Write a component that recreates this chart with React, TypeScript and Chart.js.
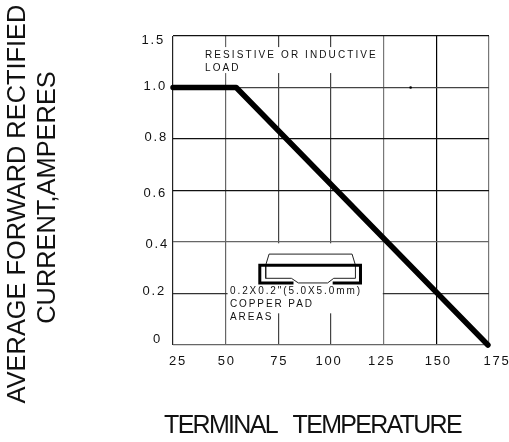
import React, { useEffect, useRef } from "react";
import { Chart, registerables } from "chart.js";

Chart.register(...registerables);

const FONT = '"Liberation Sans", Arial, sans-serif';

const xTickValues = [25, 50, 75, 100, 125, 150, 175];
const yTickLabels = ["0", "0.2", "0.4", "0.6", "0.8", "1.0", "1.5"];

const deratingX = [25, 55, 174.5];
const deratingY = [1.0, 1.0, 0];

const specX = [137.8];
const specY = [1.0];

const padBoldX = [82.2, 66.2, 66.2, 114, 114, 100.8];
const padBoldY = [0.241, 0.241, 0.31, 0.31, 0.241, 0.241];
const padTopX = [69, 70.6, 110, 111.6];
const padTopY = [0.31, 0.353, 0.353, 0.31];
const padBodyX = [69, 69, 81.2, 84.5, 98.4, 101.3, 111.6, 111.6];
const padBodyY = [0.31, 0.259, 0.259, 0.241, 0.241, 0.259, 0.259, 0.31];

const noteBox1 = [40, 122.2, 1.157, 1.056];
const noteBox2 = [50.9, 124.6, 0.395, 0.123];

const note1Lines = ["RESISTIVE OR INDUCTIVE", "LOAD"];
const note2Lines = ['0.2X0.2"(5.0X5.0mm)', "COPPER PAD", "AREAS"];
const yTitleLines = ["AVERAGE FORWARD RECTIFIED", "CURRENT,AMPERES"];
const xTitle = "TERMINAL   TEMPERATURE";

const vGridColors = ["#222", "#666", "#444", "#444", "#777", "#000", "#777"];
const hGridColors = ["#666", "#333", "#666", "#111", "#111", "#444", "#111"];

const zip = (xs: number[], ys: number[]) => xs.map((x, i) => ({ x, y: ys[i] }));

const annotations = {
  id: "annotations",
  beforeDraw(chart: any) {
    const { ctx, scales } = chart;
    (ctx as any).letterSpacing = "1.8px";
    const shift = (scale: any, nudgeX: number[], nudgeY: number[]) => {
      if (scale._nudged === scale._labelItems && scale._labelItems) return;
      scale.getLabelItems().forEach((item: any, i: number) => {
        item.options.translation[0] += nudgeX[i] ?? 0;
        item.options.translation[1] += nudgeY[i] ?? 0;
      });
      scale._nudged = scale._labelItems;
    };
    shift(scales.x, [5, 1, 1, -2, -2, 2, 8], []);
    shift(scales.y, [0, 4, 7, 5, 6, 5, 3], [-6, -2, 2, 3, -2, -1, 4]);
  },
  beforeDatasetsDraw(chart: any) {
    const { ctx, scales } = chart;
    const { x, y } = scales;
    ctx.save();
    ctx.fillStyle = "#fff";
    for (const b of [noteBox1, noteBox2]) {
      const l = x.getPixelForValue(b[0]);
      const r = x.getPixelForValue(b[1]);
      const t = y.getPixelForValue(b[2]);
      const m = y.getPixelForValue(b[3]);
      ctx.fillRect(l, t, r - l, m - t);
    }
    ctx.restore();
  },
  afterDatasetsDraw(chart: any) {
    const { ctx } = chart;
    ctx.save();
    ctx.fillStyle = "#111";
    ctx.textBaseline = "middle";
    ctx.textAlign = "left";
    ctx.font = `10px ${FONT}`;
    ctx.letterSpacing = "2.1px";
    note1Lines.forEach((t, i) => ctx.fillText(t, 205, 55 + i * 13));
    ctx.letterSpacing = "1.9px";
    note2Lines.forEach((t, i) => ctx.fillText(t, 230, 291.5 + i * 12.7));

    ctx.letterSpacing = "0px";
    ctx.textAlign = "center";
    ctx.font = `25.4px ${FONT}`;
    ctx.save();
    ctx.translate(18, 204);
    ctx.rotate(-Math.PI / 2);
    ctx.fillText(yTitleLines[0], 0, 0);
    ctx.restore();
    ctx.save();
    ctx.translate(47.5, 197.5);
    ctx.rotate(-Math.PI / 2);
    ctx.fillText(yTitleLines[1], 0, 0);
    ctx.restore();
    ctx.font = `25px ${FONT}`;
    ctx.letterSpacing = "-1.7px";
    ctx.fillText(xTitle, 312.5, 426);
    ctx.restore();
  },
};

export default function App() {
  const ref = useRef<HTMLCanvasElement>(null);
  useEffect(() => {
    const chart = new Chart(ref.current!, {
      type: "scatter",
      data: {
        datasets: [
          {
            label: "Derating",
            data: zip(deratingX, deratingY),
            showLine: true,
            borderColor: "#000",
            borderWidth: 5.5,
            borderCapStyle: "round",
            borderJoinStyle: "round",
            pointRadius: 0,
            clip: false,
          },
          {
            label: "Spec",
            data: zip(specX, specY),
            pointRadius: 1.3,
            backgroundColor: "#000",
            borderWidth: 0,
          },
          {
            label: "Pad",
            data: zip(padBoldX, padBoldY),
            showLine: true,
            borderColor: "#000",
            borderWidth: 3,
            borderCapStyle: "butt",
            borderJoinStyle: "miter",
            pointRadius: 0,
          },
          {
            label: "Package top",
            data: zip(padTopX, padTopY),
            showLine: true,
            borderColor: "#222",
            borderWidth: 1,
            pointRadius: 0,
          },
          {
            label: "Package body",
            data: zip(padBodyX, padBodyY),
            showLine: true,
            borderColor: "#222",
            borderWidth: 1,
            pointRadius: 0,
          },
        ],
      } as any,
      options: {
        animation: false,
        responsive: false,
        layout: { padding: { top: 36, right: 20, left: 0, bottom: 0 } },
        plugins: { legend: { display: false }, tooltip: { enabled: false } },
        scales: {
          x: {
            type: "linear",
            min: 25,
            max: 175,
            afterBuildTicks: (s: any) => {
              s.ticks = xTickValues.map((value) => ({ value }));
            },
            afterFit: (s: any) => {
              s.height = 97;
            },
            border: { display: false },
            grid: {
              drawTicks: false,
              color: (c: any) => vGridColors[c.index] ?? "#444",
              lineWidth: 1.2,
            },
            ticks: {
              color: "#111",
              font: { family: FONT, size: 13 },
              padding: 9,
              maxRotation: 0,
              autoSkip: false,
            },
          },
          y: {
            type: "linear",
            min: 0,
            max: 1.2,
            afterBuildTicks: (s: any) => {
              s.ticks = yTickLabels.map((_, i) => ({ value: i * 0.2 }));
            },
            afterFit: (s: any) => {
              s.width = 173;
            },
            border: { display: false },
            grid: {
              drawTicks: false,
              color: (c: any) => hGridColors[c.index] ?? "#444",
              lineWidth: 1.2,
            },
            ticks: {
              color: "#111",
              font: { family: FONT, size: 13 },
              padding: 11,
              autoSkip: false,
              callback: (_: any, i: number) => yTickLabels[i],
            },
          },
        },
      },
      plugins: [annotations],
    } as any);
    return () => chart.destroy();
  }, []);
  return (
    <canvas
      ref={ref}
      width={509}
      height={442}
      style={{ position: "absolute", left: 0, top: 0, width: 509, height: 442 }}
    />
  );
}
